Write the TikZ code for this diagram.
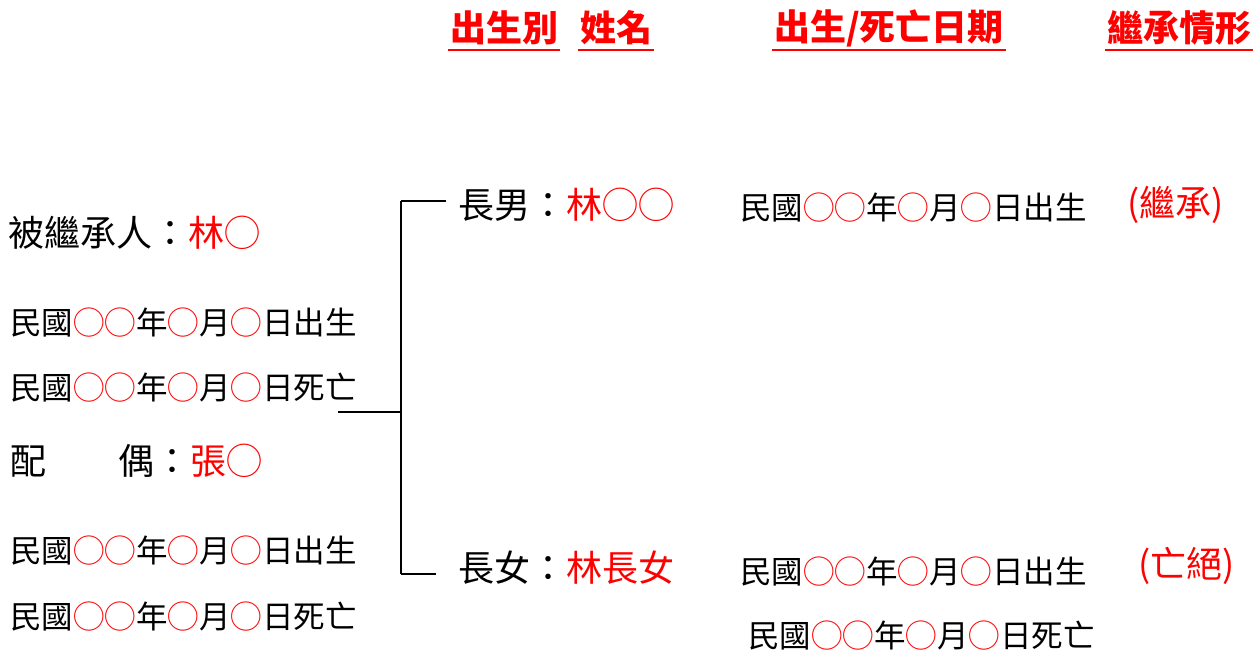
\documentclass[tikz,border=0pt]{standalone}
\usepackage{fontspec}
\setmainfont{Noto Sans CJK TC}
\usepackage{tikz}
\newcommand{\quan}{\textcolor{red}{◯}}
\newcommand{\hong}[1]{\textcolor{red}{#1}}
\tikzset{
  headbox/.style={font=\bfseries\fontsize{36}{40}\selectfont, text=red, inner xsep=2pt, inner ysep=0pt},
  uline/.style={draw=red, line width=2.5pt},
  namebox/.style={font=\fontsize{36}{40}\selectfont, anchor=west, inner sep=0pt},
  datebox/.style={font=\fontsize{31.5}{36}\selectfont, anchor=west, inner sep=0pt},
  statebox/.style={font=\fontsize{36}{40}\selectfont, text=red, anchor=west, inner sep=0pt}
}
\begin{document}
\begin{tikzpicture}[x=1pt,y=-1pt]
\useasboundingbox (0,0) rectangle (1254,655);
% column heads
\node[headbox] (hbirth) at (504,28) {出生別};
\node[headbox] (hname) at (616,28) {姓名};
\node[headbox] (hdate) at (889,28) {出生/死亡日期};
\node[headbox] (hinh) at (1179,28) {繼承情形};
\foreach \h in {hbirth,hname,hdate,hinh}
  \draw[uline] (\h.west |- 0,50) -- (\h.east |- 0,50);
% deceased and spouse
\node[namebox] (dec) at (8,233) {被繼承人：\hong{林◯}};
\node[datebox] (decb) at (10,323) {民國\quan\quan 年\quan 月\quan 日出生};
\node[datebox] (decd) at (10,388) {民國\quan\quan 年\quan 月\quan 日死亡};
\node[namebox] (sp) at (10,461) {配\hspace{2em}偶：\hong{張◯}};
\node[datebox] (spb) at (10,551) {民國\quan\quan 年\quan 月\quan 日出生};
\node[datebox] (spd) at (10,617) {民國\quan\quan 年\quan 月\quan 日死亡};
% children
\node[namebox] (son) at (458,205) {長男：\hong{林◯◯}};
\node[datebox] (sonb) at (740,208) {民國\quan\quan 年\quan 月\quan 日出生};
\node[statebox] (sonst) at (1127,205) {(繼承)};
\node[namebox] (dau) at (458,568) {長女：\hong{林長女}};
\node[datebox] (daub) at (740,572) {民國\quan\quan 年\quan 月\quan 日出生};
\node[statebox] (daust) at (1138,566) {(亡絕)};
\node[datebox] (daud) at (748,636) {民國\quan\quan 年\quan 月\quan 日死亡};
% bracket
\coordinate (root) at (338,412);
\coordinate (fork) at (401,412);
\draw[line width=1.5pt] (root) -- (fork);
\draw[line width=1.5pt] (fork |- 0,201) -- (fork |- 0,574);
\draw[line width=1.5pt] (fork |- 0,201) -- ([xshift=-12pt]son.west |- 0,201);
\draw[line width=1.5pt] (fork |- 0,574) -- ([xshift=-22pt]dau.west |- 0,574);
\end{tikzpicture}
\end{document}
